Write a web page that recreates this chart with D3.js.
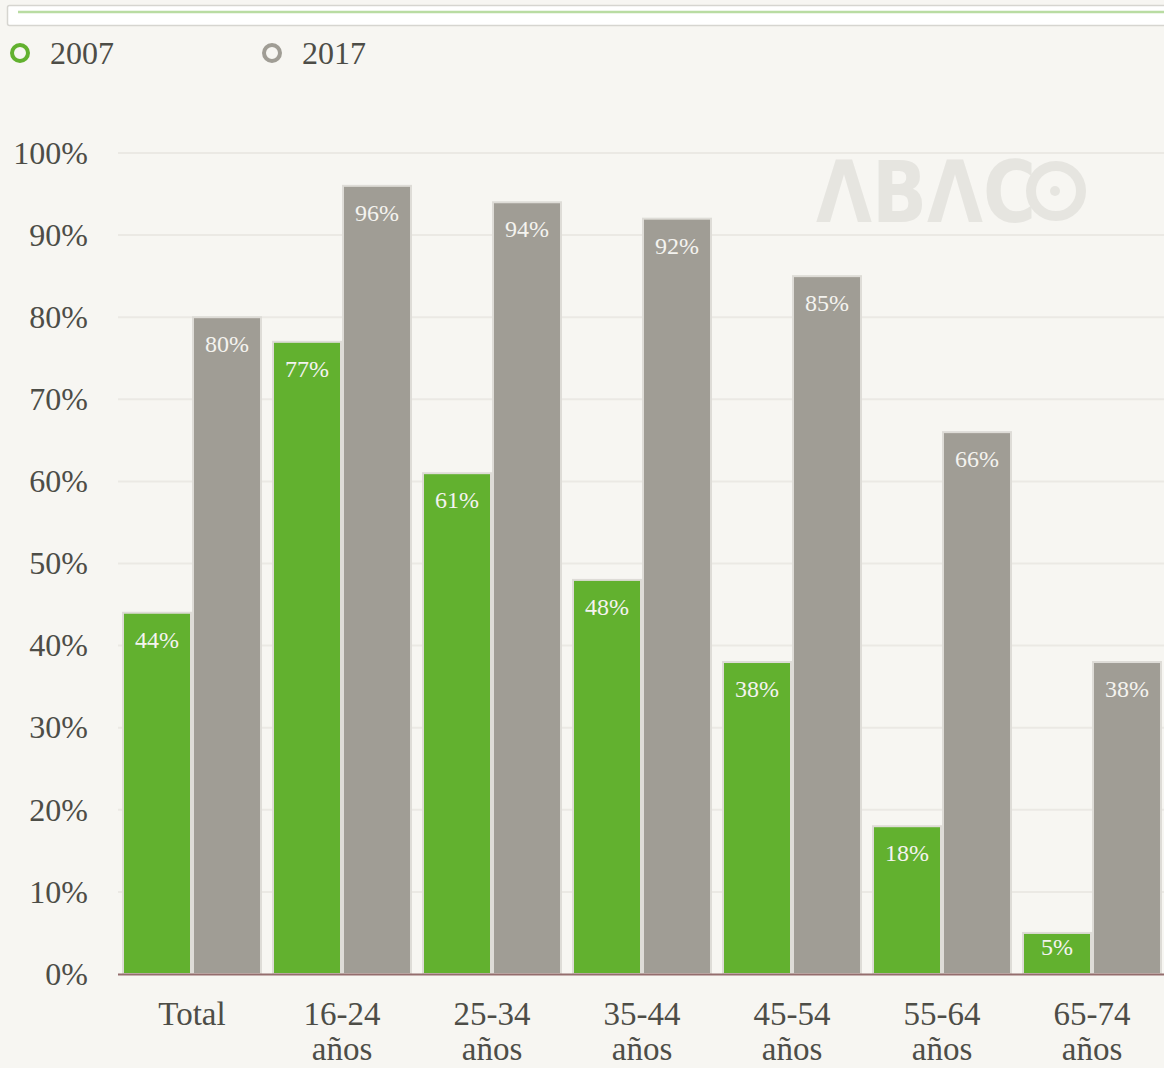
<!DOCTYPE html>
<html>
<head>
<meta charset="utf-8">
<script src="https://cdn.jsdelivr.net/npm/d3@7"></script>
<style>
  html, body { margin: 0; padding: 0; background: #f7f6f2; }
  svg { display: block; }
</style>
</head>
<body>
<svg id="chart" width="1164" height="1068"></svg>
<script>
// data
var categories = ["Total", "16-24 años", "25-34 años", "35-44 años", "45-54 años", "55-64 años", "65-74 años"];
var seriesNames = ["2007", "2017"];
var values2007 = [44, 77, 61, 48, 38, 18, 5];
var values2017 = [80, 96, 94, 92, 85, 66, 38];
var yTicks = [0, 10, 20, 30, 40, 50, 60, 70, 80, 90, 100];

var colors = {"2007": "#62b12f", "2017": "#a09d95"};
var font = "'Liberation Serif', 'DejaVu Serif', serif";

var svg = d3.select("#chart");
var W = +svg.attr("width"), H = +svg.attr("height");

svg.append("rect").attr("width", W).attr("height", H).attr("fill", "#f7f6f2");

// top slider box
svg.append("rect")
    .attr("x", 7.5).attr("y", 5.5).attr("width", 1170).attr("height", 20)
    .attr("fill", "#ffffff").attr("stroke", "#d6d5d0").attr("stroke-width", 1.5).attr("rx", 2);
svg.append("line")
    .attr("x1", 18).attr("x2", 1164).attr("y1", 12).attr("y2", 12)
    .attr("stroke", "#b9dca2").attr("stroke-width", 2.5);

// legend
var legend = svg.append("g");
var legendX = [20, 272];
seriesNames.forEach(function (s, i) {
    legend.append("circle")
        .attr("cx", legendX[i]).attr("cy", 53).attr("r", 8)
        .attr("fill", "none").attr("stroke", colors[s]).attr("stroke-width", 4);
    legend.append("text")
        .attr("x", legendX[i] + 30).attr("y", 64)
        .attr("font-family", font).attr("font-size", 32).attr("fill", "#4d4d47")
        .text(s);
});

// scales
var y = d3.scaleLinear().domain([0, 100]).range([974, 153]);
var x0 = d3.scaleBand().domain(categories).range([120, 1170]).padding(0);
var x1 = d3.scaleBand().domain(seriesNames).range([3, 143]).padding(0);

// gridlines
svg.append("g").selectAll("line")
    .data(yTicks.filter(function (d) { return d > 0; }))
    .join("line")
    .attr("x1", 118).attr("x2", W)
    .attr("y1", function (d) { return y(d); })
    .attr("y2", function (d) { return y(d); })
    .attr("stroke", "#ebe9e4").attr("stroke-width", 2);

// watermark
var wm = svg.append("g").attr("fill", "#e6e5e0");
wm.append("text")
    .attr("x", 816).attr("y", 222)
    .attr("font-family", "'DejaVu Sans', sans-serif").attr("font-size", 86).attr("font-weight", "bold")
    .attr("textLength", 220).attr("lengthAdjust", "spacingAndGlyphs")
    .text("ΛBΛC");
wm.append("circle").attr("cx", 1056).attr("cy", 191).attr("r", 25)
    .attr("fill", "none").attr("stroke", "#e6e5e0").attr("stroke-width", 10);
wm.append("circle").attr("cx", 1055).attr("cy", 191).attr("r", 5);

// y axis
var yAxis = d3.axisLeft(y).tickValues(yTicks).tickFormat(function (d) { return d + "%"; }).tickSize(0).tickPadding(0);
var yg = svg.append("g").attr("transform", "translate(88,0)").call(yAxis);
yg.select(".domain").remove();
yg.selectAll("text")
    .attr("font-family", font).attr("font-size", 32).attr("fill", "#4d4d47")
    .attr("dy", "0.32em");

// bars
var data = categories.map(function (c, i) {
    return {cat: c, vals: [{s: "2007", v: values2007[i]}, {s: "2017", v: values2017[i]}]};
});

var groups = svg.append("g").selectAll("g")
    .data(data)
    .join("g")
    .attr("transform", function (d) { return "translate(" + x0(d.cat) + ",0)"; });

groups.selectAll("rect")
    .data(function (d) { return d.vals; })
    .join("rect")
    .attr("x", function (d) { return x1(d.s); })
    .attr("width", x1.bandwidth() - 2)
    .attr("y", function (d) { return y(d.v); })
    .attr("height", function (d) { return y(0) - y(d.v); })
    .attr("fill", function (d) { return colors[d.s]; })
    .attr("stroke", "#dedcd7").attr("stroke-width", 2);

groups.selectAll("text.val")
    .data(function (d) { return d.vals; })
    .join("text")
    .attr("class", "val")
    .attr("x", function (d) { return x1(d.s) + (x1.bandwidth() - 2) / 2; })
    .attr("y", function (d) { return Math.min(y(d.v) + 35, y(0) - 19); })
    .attr("text-anchor", "middle")
    .attr("font-family", font).attr("font-size", 24).attr("fill", "#f4f3ef")
    .text(function (d) { return d.v + "%"; });

// baseline
svg.append("line")
    .attr("x1", 118).attr("x2", W).attr("y1", y(0) + 0.5).attr("y2", y(0) + 0.5)
    .attr("stroke", "#946d6d").attr("stroke-width", 2);

// category labels
var xg = svg.append("g");
categories.forEach(function (c) {
    var parts = c.split(" ");
    var t = xg.append("text")
        .attr("text-anchor", "middle")
        .attr("font-family", font).attr("font-size", 33).attr("fill", "#4d4d47");
    parts.forEach(function (p, j) {
        t.append("tspan")
            .attr("x", x0(c) + 72)
            .attr("y", 1025 + j * 35)
            .text(p);
    });
});
</script>
</body>
</html>
